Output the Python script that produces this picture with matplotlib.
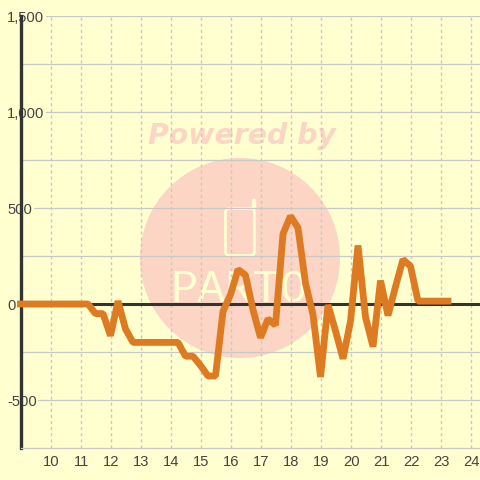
import matplotlib
matplotlib.use("Agg")
import matplotlib.pyplot as plt
from matplotlib.patches import Circle, FancyBboxPatch
from matplotlib.transforms import ScaledTranslation

plt.rcParams["font.family"] = ["Liberation Sans", "DejaVu Sans"]

hours = [9.0, 9.25, 9.5, 9.75, 10.0, 10.25, 10.5, 10.75, 11.0, 11.25, 11.5, 11.75,
         12.0, 12.25, 12.5, 12.75, 13.0, 13.25, 13.5, 13.75, 14.0, 14.25, 14.5, 14.75,
         15.0, 15.25, 15.5, 15.75, 16.0, 16.25, 16.5, 16.75, 17.0, 17.25, 17.5, 17.75,
         18.0, 18.25, 18.5, 18.75, 19.0, 19.25, 19.5, 19.75, 20.0, 20.25, 20.5, 20.75,
         21.0, 21.25, 21.5, 21.75, 22.0, 22.25, 22.5, 22.75, 23.0, 23.25]
values = [0, 0, 0, 0, 0, 0, 0, 0, 0, 0, -50, -50,
          -165, 15, -130, -200, -200, -200, -200, -200, -200, -200, -272, -272,
          -320, -375, -375, -38, 48, 180, 150, -30, -175, -78, -110, 365,
          458, 397, 108, -55, -380, -5, -140, -285, -90, 305, -68, -222,
          122, -60, 90, 232, 197, 15, 15, 15, 15, 15]
x_ticks = list(range(10, 25))
y_ticks = [-500, 0, 500, 1000, 1500]
y_labels = ["-500", "0", "500", "1,000", "1,500"]

BG = "#FFFFD0"
GRID = "#C8C8C8"
DARK = "#333333"
ORANGE = "#DE7A22"
MARK = "#FCD5C5"

fig = plt.figure(figsize=(4.8, 4.8), dpi=100, facecolor=BG)
ax = fig.add_axes([20.5 / 480, 32 / 480, 459.5 / 480, 432 / 480], facecolor=BG)
ax.set_xlim(9, 9 + 459.5 / 30)
ax.set_ylim(-750, 1500)

# watermark, placed in pixels from the top left corner
wm = fig.add_axes([0, 0, 1, 1], facecolor="none", zorder=0)
wm.set_xlim(0, 480)
wm.set_ylim(480, 0)
wm.axis("off")
ax.set_zorder(1)
ax.patch.set_visible(False)
wm.add_patch(Circle((240, 258), 100, fc=MARK, ec="none"))
wm.text(241.5, 136, "Powered by", color=MARK, fontsize=20.4, fontweight="bold", fontstyle="italic",
        family="DejaVu Sans", ha="center", va="center")
wm.add_patch(FancyBboxPatch((225.5, 208.5), 29, 47, boxstyle="round,pad=0,rounding_size=4",
                            fc="none", ec=BG, lw=2))
wm.plot([253.5, 253.5], [201, 208], color=BG, lw=3.2, solid_capstyle="round")
wm.text(239, 290.5, "PARTO", color=BG, fontsize=33, family="Liberation Mono",
        ha="center", va="center")

ax.set_xticks(x_ticks)
ax.set_yticks(y_ticks)
ax.set_yticks([-250, 250, 750, 1250], minor=True)
ax.set_xticklabels([str(t) for t in x_ticks])
ax.set_yticklabels(y_labels)
ax.grid(True, axis="y", which="both", color=GRID, lw=0.9, zorder=1)
ax.grid(True, axis="x", color=GRID, lw=1, ls=(0, (2.2, 2.2)), zorder=1)
ax.set_axisbelow(True)

for side in ["top", "right"]:
    ax.spines[side].set_visible(False)
ax.spines["bottom"].set_color(GRID)
ax.spines["bottom"].set_linewidth(0.9)
ax.spines["left"].set_color(DARK)
ax.spines["left"].set_linewidth(2.4)
ax.spines["left"].set_zorder(2)

ax.tick_params(which="both", length=0)
ax.tick_params(axis="x", labelsize=10.6, labelcolor="#444444", pad=5)
ax.tick_params(axis="y", labelsize=10.6, labelcolor="#444444", pad=9.7)
for lab in ax.get_xticklabels():
    lab.set_transform(lab.get_transform() + ScaledTranslation(0.007, 0, fig.dpi_scale_trans))
for lab in ax.get_yticklabels():
    lab.set_horizontalalignment("left")
    lab.set_bbox(dict(facecolor=BG, edgecolor="none", pad=1.2))
    lab.set_zorder(3)
    lab.set_clip_on(False)

ax.axhline(0, color=DARK, lw=2.2, zorder=2, clip_on=False)
ax.plot(hours, values, color=ORANGE, lw=4.9, solid_capstyle="projecting", solid_joinstyle="bevel",
        zorder=4, clip_on=False)

fig.savefig("out.png", dpi=100, facecolor=BG)
